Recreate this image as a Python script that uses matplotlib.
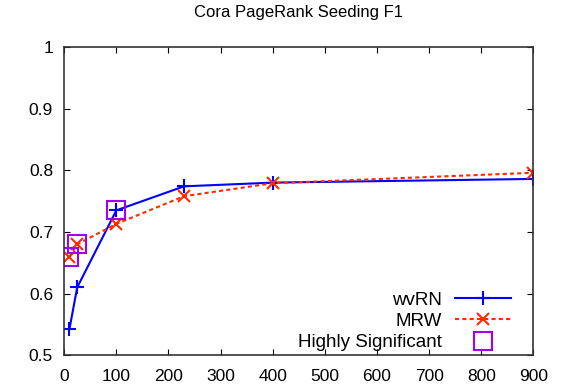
import matplotlib
matplotlib.use("Agg")
import matplotlib.pyplot as plt
from matplotlib.ticker import FuncFormatter

plt.rcParams['font.family'] = ['Liberation Sans', 'DejaVu Sans']

x_vals = [10, 25, 100, 230, 400, 900]
wvrn = [0.542, 0.610, 0.735, 0.774, 0.780, 0.786]
mrw = [0.659, 0.680, 0.713, 0.758, 0.779, 0.796]
sig_x = [10, 25, 100]
sig_y = [0.659, 0.680, 0.735]
x_ticks = [0, 100, 200, 300, 400, 500, 600, 700, 800, 900]
y_ticks = [0.5, 0.6, 0.7, 0.8, 0.9, 1.0]

fig = plt.figure(figsize=(5.68, 3.89), dpi=100)
ax = fig.add_axes([0.113, 0.087, 0.826, 0.792])

ax.plot(x_vals, wvrn, color='#0000ff', lw=1.5, marker='+', ms=10, mew=1.5, label='wvRN')
ax.plot(x_vals, mrw, color='#ff2a00', lw=1.5, ls=(0, (2, 1.5)), marker='x', ms=9, mew=1.5, label='MRW')
ax.plot(sig_x, sig_y, ls='none', marker='s', ms=13, mfc='none', mec='#a000f0', mew=1.5,
        label='Highly Significant')

ax.set_xlim(0, 900)
ax.set_ylim(0.5, 1.0)
ax.set_xticks(x_ticks)
ax.set_yticks(y_ticks)
ax.yaxis.set_major_formatter(FuncFormatter(lambda v, p: '%g' % v))
ax.tick_params(direction='in', top=True, right=True, labelsize=12.5, length=4)
ax.tick_params(axis='x', pad=10)
ax.tick_params(axis='y', pad=8)
for s in ax.spines.values():
    s.set_linewidth(1.2)
    s.set_color('#333333')

ax.set_title('Cora PageRank Seeding F1', fontsize=12, pad=22)
leg = ax.legend(loc='lower right', frameon=False, markerfirst=False, fontsize=13.5,
                handlelength=3.0, borderaxespad=0.5, labelspacing=0.22, handletextpad=0.7,
                borderpad=0.2, bbox_to_anchor=(0.98, -0.03))
for t in leg.get_texts():
    t.set_ha('right')

fig.savefig('out.png', dpi=100)
